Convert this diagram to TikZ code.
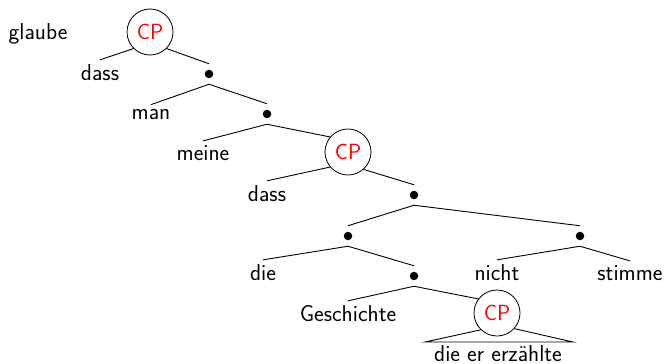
\documentclass[tikz,border=0pt]{standalone}
\begin{document}
\begin{tikzpicture}[x=1pt,y=-1pt,
  word/.style={font=\fontsize{23}{27}\selectfont\sffamily, inner sep=4pt, anchor=base},
  dot/.style={circle, fill=black, minimum size=8.5pt, inner sep=0pt, outer sep=6pt},
  cp/.style={circle, draw, line width=0.8pt, minimum size=46pt, inner sep=0pt,
    text=red, font=\fontsize{22}{26}\selectfont\sffamily},
  branch/.style={line width=0.9pt}]
\useasboundingbox (0,0) rectangle (667,364);

% nodes, row by row
\node[word] (glaube) at (38,39.5) {glaube};
\node[cp] (cp1) at (150,32) {CP};

\node[word] (dass1) at (100,80) {dass};
\node[dot] (d1) at (209,74) {};

\node[word] (man) at (151,119) {man};
\node[dot] (d2) at (267,114) {};

\node[word] (meine) at (203,160) {meine};
\node[cp] (cp2) at (348,152) {CP};

\node[word] (dass2) at (267,201) {dass};
\node[dot] (d3) at (414,195) {};

\node[dot] (d4) at (348,236) {};
\node[dot] (d5) at (580,236) {};

\node[word] (die) at (263,280) {die};
\node[dot] (d6) at (414,276) {};
\node[word] (nicht) at (497,280) {nicht};
\node[word] (stimme) at (630,280) {stimme};

\node[word] (gesch) at (348,321) {Geschichte};
\node[cp] (cp3) at (497,313) {CP};

\coordinate (tl) at (425,342);
\coordinate (tr) at (573,342);
\node[word] (rel) at (498,361) {die er erzählte};

% branches
\draw[branch] (cp1.-135) -- (dass1.north);
\draw[branch] (cp1.-45) -- (d1.north);
\draw[branch] (d1.south) -- (man.north);
\draw[branch] (d1.south) -- (d2.north);
\draw[branch] (d2.south) -- (meine.north);
\draw[branch] (d2.south) -- (cp2.140);
\draw[branch] (cp2.-140) -- (dass2.north);
\draw[branch] (cp2.-48) -- (d3.north);
\draw[branch] (d3.south) -- (d4.north);
\draw[branch] (d3.south) -- (d5.north);
\draw[branch] (d4.south) -- (die.north);
\draw[branch] (d4.south) -- (d6.north);
\draw[branch] (d5.south) -- (nicht.north);
\draw[branch] (d5.south) -- (stimme.north);
\draw[branch] (d6.south) -- (gesch.north);
\draw[branch] (d6.south) -- (cp3.143);

% roof over the unanalysed clause
\draw[branch] (cp3.-134) -- (tl) -- (tr) -- (cp3.-42);
\end{tikzpicture}
\end{document}
